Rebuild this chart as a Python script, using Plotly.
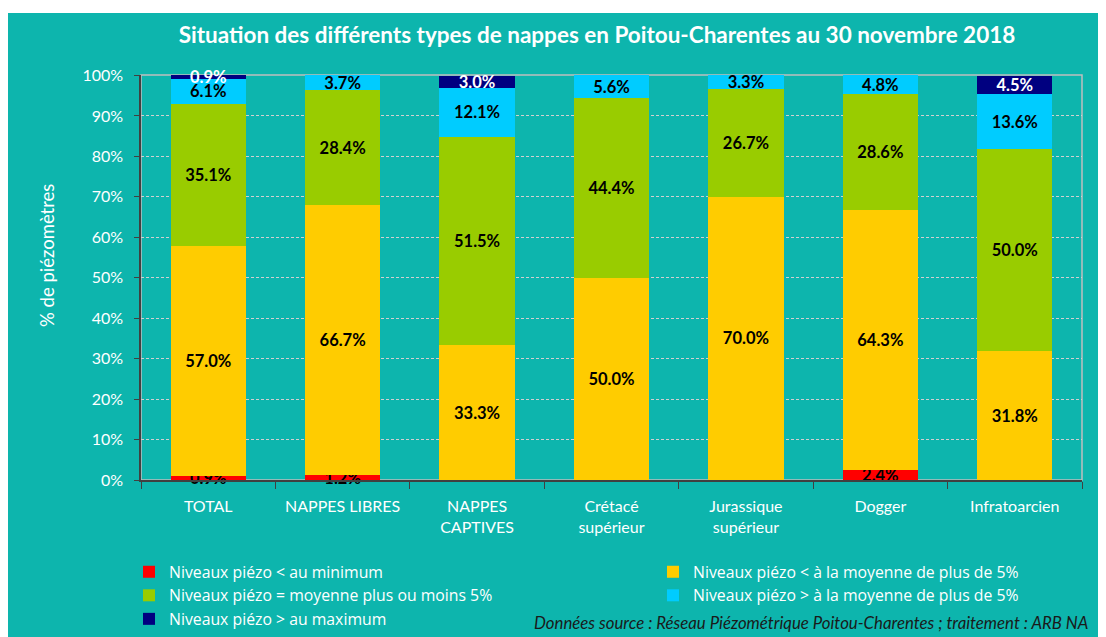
import plotly.graph_objects as go

categories = ["TOTAL", "NAPPES LIBRES", "NAPPES<br>CAPTIVES", "Crétacé<br>supérieur",
              "Jurassique<br>supérieur", "Dogger", "Infratoarcien"]

series_names = [
    "Niveaux piézo < au minimum",
    "Niveaux piézo < à la moyenne de plus de 5%",
    "Niveaux piézo = moyenne plus ou moins 5%",
    "Niveaux piézo > à la moyenne de plus de 5%",
    "Niveaux piézo > au maximum",
]
sous_minimum = [0.9, 1.2, 0.0, 0.0, 0.0, 2.4, 0.0]
sous_moyenne = [57.0, 66.7, 33.3, 50.0, 70.0, 64.3, 31.8]
autour_moyenne = [35.1, 28.4, 51.5, 44.4, 26.7, 28.6, 50.0]
sur_moyenne = [6.1, 3.7, 12.1, 5.6, 3.3, 4.8, 13.6]
sur_maximum = [0.9, 0.0, 3.0, 0.0, 0.0, 0.0, 4.5]

series_values = [sous_minimum, sous_moyenne, autour_moyenne, sur_moyenne, sur_maximum]
colors = ["#FF0000", "#FFCC00", "#99CC00", "#00CCFF", "#000080"]
text_colors = ["#000000", "#000000", "#000000", "#000000", "#FFFFFF"]

TEAL = "#0DB5AD"
FONT = "Lato"

# page body has an 8px margin: figure occupies screen x 8..1106, y 8..637
OFF = 8
W, H = 1098, 629
L, R, T, B = 133, 24, 67, 157
PW, PH = W - L - R, H - T - B

def px_x(sx):  # screen x -> paper x
    return (sx - OFF - L) / PW

def px_y(sy):  # screen y -> paper y
    return (H - B - (sy - OFF)) / PH

fig = go.Figure()
for name, vals, col, tcol in zip(series_names, series_values, colors, text_colors):
    fig.add_trace(go.Bar(
        x=categories,
        y=[v / 100 for v in vals],
        name=name,
        marker=dict(color=col, line=dict(width=0)),
        text=[f"{v:.1f}%" if v > 0 else "" for v in vals],
        textposition="inside",
        insidetextanchor="middle",
        textangle=0,
        constraintext="none",
        cliponaxis=False,
        textfont=dict(family=FONT, size=16.5, color=tcol, weight="bold"),
        hoverinfo="skip",
    ))

fig.update_layout(
    width=W, height=H,
    barmode="stack",
    bargap=0.44,
    paper_bgcolor=TEAL,
    plot_bgcolor=TEAL,
    margin=dict(l=L, r=R, t=T, b=B, autoexpand=False),
    uniformtext=dict(mode="show", minsize=16.5),
    font=dict(family=FONT, color="white", size=16),
    title=dict(
        text="<b>Situation des différents types de nappes en Poitou-Charentes au 30 novembre 2018</b>",
        x=(597 - OFF) / W, xanchor="center", xref="container",
        y=1 - (35 - OFF) / H, yanchor="middle", yref="container",
        font=dict(family=FONT, size=22.5, color="white"),
    ),
    showlegend=True,
    legend=dict(
        orientation="h",
        x=px_x(129), xanchor="left",
        y=px_y(555), yanchor="top",
        entrywidth=479, entrywidthmode="pixels",
        traceorder="normal",
        font=dict(family="Open Sans", size=15.8, color="white"),
        bgcolor="rgba(0,0,0,0)",
        itemwidth=30,
        tracegroupgap=0,
    ),
    xaxis=dict(
        showline=True, linecolor="#404040", linewidth=1.5,
        ticks="outside", tickson="boundaries", ticklen=7, tickcolor="#404040",
        tickfont=dict(family=FONT, size=16, color="white"),
        ticklabelstandoff=11,
        showgrid=False,
        fixedrange=True,
    ),
    yaxis=dict(
        range=[0, 1.0011],
        tickvals=[i / 10 for i in range(11)],
        tickformat=".0%",
        showline=True, linecolor="#404040", linewidth=1.5,
        ticks="outside", ticklen=5, tickcolor="#404040",
        ticklabelstandoff=8,
        showgrid=True, gridcolor="#D0D0D0", griddash="3px,2px", gridwidth=0.8,
        tickfont=dict(family=FONT, size=16, color="white"),
        fixedrange=True,
        zeroline=False,
    ),
)

# plot frame (top/right border)
fig.add_shape(type="rect", xref="paper", yref="paper", x0=0, x1=1, y0=0, y1=1,
              line=dict(color="#BFBFBF", width=1.5), layer="below")
# white page strip at the top
fig.add_shape(type="rect", xref="paper", yref="paper",
              x0=px_x(0), x1=px_x(1120), y0=px_y(13), y1=px_y(0),
              fillcolor="white", line=dict(width=0), layer="above")

# y axis title
fig.add_annotation(
    text="% de piézomètres", textangle=-90,
    xref="paper", yref="paper", x=px_x(47), y=px_y(256),
    xanchor="center", yanchor="middle", showarrow=False,
    font=dict(family=FONT, size=18.5, color="white"),
)

fig.add_annotation(
    text="<i>Données source : Réseau Piézométrique Poitou-Charentes ; traitement : ARB NA</i>",
    xref="paper", yref="paper", x=px_x(1090), y=px_y(622),
    xanchor="right", yanchor="middle", showarrow=False,
    font=dict(family=FONT, size=16.8, color="#1A1A1A"),
)

fig.write_html("out.html")
